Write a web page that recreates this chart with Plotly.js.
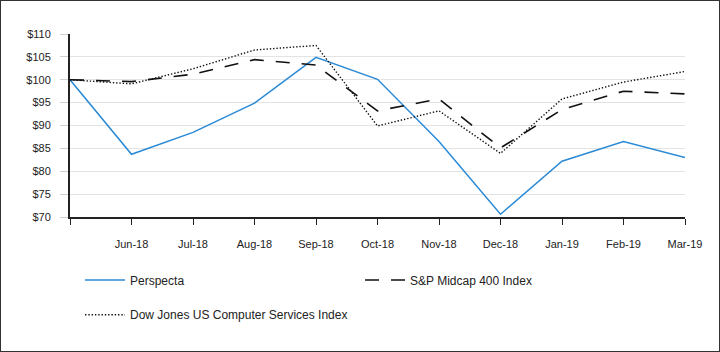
<!DOCTYPE html>
<html><head><meta charset="utf-8">
<script src="https://cdn.plot.ly/plotly-3.0.1.min.js"></script>
<style>
html,body{margin:0;padding:0;background:#fff;}
#wrap{position:relative;width:720px;height:352px;}
#frame{position:absolute;left:0;top:0;width:718px;height:350px;border:1px solid #333;pointer-events:none;z-index:10;}
#chart{width:720px;height:352px;}
</style></head>
<body><div id="wrap"><div id="chart"></div><div id="frame"></div></div>
<script>
const months = ["", "Jun-18", "Jul-18", "Aug-18", "Sep-18", "Oct-18", "Nov-18", "Dec-18", "Jan-19", "Feb-19", "Mar-19"];
const perspecta = [100, 83.7, 88.5, 94.9, 104.9, 100.1, 86.5, 70.6, 82.2, 86.5, 83.0];
const spMidcap = [100, 99.6, 101.2, 104.4, 103.2, 93.2, 95.8, 85.1, 93.5, 97.5, 96.9];
const dowJones = [100, 99.1, 102.4, 106.5, 107.5, 89.9, 93.2, 83.9, 95.8, 99.5, 101.8];
const yTicks = [70, 75, 80, 85, 90, 95, 100, 105, 110];

const idx = months.map((m, i) => i);
const font = {family: "Liberation Sans, Arial, sans-serif", size: 11, color: "#222"};
const legFont = {family: "Liberation Sans, Arial, sans-serif", size: 12, color: "#222"};

const traces = [
  {x: idx, y: perspecta, name: "Perspecta", type: "scatter", mode: "lines",
   line: {color: "#2a8ad6", width: 1.5}, legend: "legend"},
  {x: idx, y: spMidcap, name: "S&P Midcap 400 Index", type: "scatter", mode: "lines",
   line: {color: "#111", width: 1.6, dash: "14px,12px"}, legend: "legend"},
  {x: idx, y: dowJones, name: "Dow Jones US Computer Services Index", type: "scatter", mode: "lines",
   line: {color: "#111", width: 1.4, dash: "1.4px,1.9px"}, legend: "legend2"}
];

const layout = {
  width: 720, height: 352,
  margin: {l: 70, r: 35, t: 34, b: 135},
  paper_bgcolor: "#fff", plot_bgcolor: "#fff",
  font: font,
  showlegend: true,
  xaxis: {
    range: [0, 10], tickvals: idx, ticktext: months,
    showgrid: false, zeroline: false,
    showline: true, linecolor: "#222", linewidth: 1.5,
    ticks: "outside", ticklen: 6, tickcolor: "#222", tickwidth: 1,
    ticklabelstandoff: 10, tickfont: font
  },
  yaxis: {
    range: [70, 110], tickvals: yTicks, ticktext: yTicks.map(v => "$" + v),
    showgrid: true, gridcolor: "#e3e3e3", gridwidth: 1,
    zeroline: false, showline: true, linecolor: "#222", linewidth: 2,
    ticks: "outside", ticklen: 8, tickcolor: "#d0d0d0",
    ticklabelstandoff: 7, tickfont: font
  },
  legend: {
    orientation: "h", x: 0.0163, xanchor: "left", y: -0.265, yanchor: "top",
    entrywidth: 225, entrywidthmode: "pixels", itemwidth: 40,
    font: legFont, bgcolor: "rgba(0,0,0,0)", traceorder: "normal"
  },
  legend2: {
    orientation: "h", x: 0.0163, xanchor: "left", y: -0.455, yanchor: "top",
    itemwidth: 40,
    font: legFont, bgcolor: "rgba(0,0,0,0)"
  }
};

Plotly.newPlot("chart", traces, layout, {displayModeBar: false, staticPlot: true});
</script></body></html>
